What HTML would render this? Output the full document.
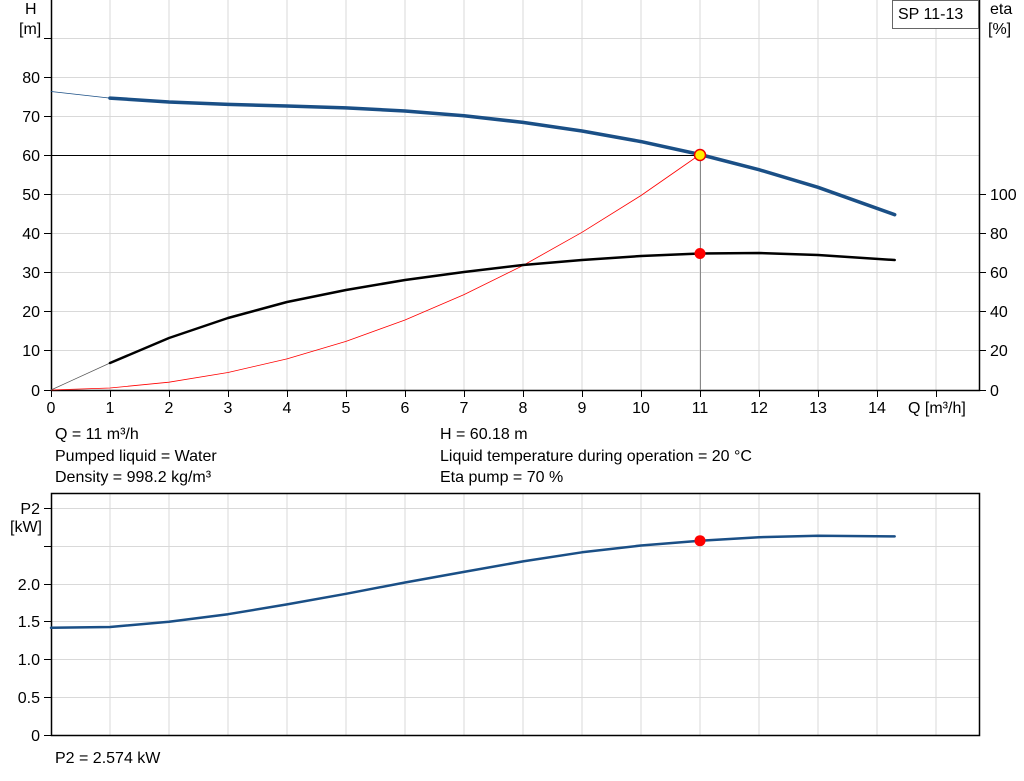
<!DOCTYPE html>
<html><head><meta charset="utf-8"><style>body{margin:0;background:#fff}svg{display:block}text{font-family:"Liberation Sans",sans-serif;font-size:16px;fill:#000}</style></head>
<body>
<svg width="1024" height="781" viewBox="0 0 1024 781">
<g stroke="#d9d9d9" stroke-width="1">
<path d="M110 0V390M169 0V390M228 0V390M287 0V390M346 0V390M405 0V390M464 0V390M523 0V390M582 0V390M641 0V390M700 0V390M759 0V390M818 0V390M877 0V390M936 0V390"/>
<path d="M51 38.5H979M51 77.5H979M51 116.5H979M51 155.5H979M51 194.5H979M51 233.5H979M51 272.5H979M51 311.5H979M51 350.5H979"/>
<path d="M110 493V735M169 493V735M228 493V735M287 493V735M346 493V735M405 493V735M464 493V735M523 493V735M582 493V735M641 493V735M700 493V735M759 493V735M818 493V735M877 493V735M936 493V735"/>
<path d="M51 508.5H979M51 546.5H979M51 584.5H979M51 621.5H979M51 659.5H979M51 697.5H979"/>
</g>
<g stroke="#000" stroke-width="1.5" fill="none">
<path d="M51.5 0V390.5H979.5V0"/>
<path d="M51.5 493.5H979.5V735.5H51.5Z"/>
</g>
<g stroke="#000" stroke-width="1">
<path d="M44 38.5H51M44 77.5H51M44 116.5H51M44 155.5H51M44 194.5H51M44 233.5H51M44 272.5H51M44 311.5H51M44 350.5H51M44 390.5H51"/>
<path d="M51.5 390V397M110.5 390V397M169.5 390V397M228.5 390V397M287.5 390V397M346.5 390V397M405.5 390V397M464.5 390V397M523.5 390V397M582.5 390V397M641.5 390V397M700.5 390V397M759.5 390V397M818.5 390V397M877.5 390V397M936.5 390V397"/>
<path d="M979 194.5H986M979 233.5H986M979 272.5H986M979 311.5H986M979 350.5H986M979 390.5H986"/>
<path d="M44 508.5H51M44 546.5H51M44 584.5H51M44 621.5H51M44 659.5H51M44 697.5H51M44 735.5H51"/>
</g>
<rect x="892.5" y="0.5" width="86" height="28" fill="#fff" stroke="#666"/>
<text x="898" y="19">SP 11-13</text>
<text x="25" y="14">H</text><text x="19" y="34">[m]</text>
<text x="990" y="14">eta</text><text x="988" y="34">[%]</text>
<g text-anchor="end">
<text x="40" y="83">80</text><text x="40" y="122">70</text><text x="40" y="161">60</text><text x="40" y="200">50</text><text x="40" y="239">40</text><text x="40" y="278">30</text><text x="40" y="317">20</text><text x="40" y="356">10</text><text x="40" y="396">0</text>
<text x="40" y="514">P2</text><text x="42" y="532">[kW]</text>
<text x="40" y="590">2.0</text><text x="40" y="627">1.5</text><text x="40" y="665">1.0</text><text x="40" y="703">0.5</text><text x="40" y="741">0</text>
</g>
<g text-anchor="start">
<text x="990" y="200">100</text><text x="990" y="239">80</text><text x="990" y="278">60</text><text x="990" y="317">40</text><text x="990" y="356">20</text><text x="990" y="396">0</text>
</g>
<g text-anchor="middle">
<text x="51" y="413">0</text><text x="110" y="413">1</text><text x="169" y="413">2</text><text x="228" y="413">3</text><text x="287" y="413">4</text><text x="346" y="413">5</text><text x="405" y="413">6</text><text x="464" y="413">7</text><text x="523" y="413">8</text><text x="582" y="413">9</text><text x="641" y="413">10</text><text x="700" y="413">11</text><text x="759" y="413">12</text><text x="818" y="413">13</text><text x="877" y="413">14</text>
</g>
<text x="908" y="413">Q [m³/h]</text>
<text x="55" y="439">Q = 11 m³/h</text>
<text x="55" y="461">Pumped liquid = Water</text>
<text x="55" y="482">Density = 998.2 kg/m³</text>
<text x="440" y="439">H = 60.18 m</text>
<text x="440" y="461">Liquid temperature during operation = 20 °C</text>
<text x="440" y="482">Eta pump = 70 %</text>
<text x="55" y="763">P2 = 2.574 kW</text>
<path d="M51 155.5H700" stroke="#000" stroke-width="1"/>
<path d="M700.5 155V390" stroke="#888" stroke-width="1"/>
<g fill="none" stroke-linejoin="round" stroke-linecap="round">
<polyline stroke="#f00" stroke-width="0.8" points="51,390 110,388 169,382.2 228,372.5 287,358.9 346,341.4 405,320 464,294.6 523,265.5 582,232.3 641,195.5 700,154.5"/>
<path d="M51 390L110 363" stroke="#555" stroke-width="0.7"/>
<polyline stroke="#000" stroke-width="2.5" points="110,363 169,338 228,318 287,302 346,290 405,280 464,272 523,265 582,260 641,256 700,253.5 759,253 818,255 894.7,260"/>
<path d="M51 91.5L110 98.1" stroke="#1a4f86" stroke-width="0.8"/>
<polyline stroke="#1a4f86" stroke-width="3.5" points="110,98.1 169,102 228,104.4 287,106 346,107.9 405,111 464,115.7 523,122.4 582,131 641,141.6 700,154.5 759,169.7 818,187.3 894.7,214.7"/>
<polyline stroke="#1a4f86" stroke-width="2.5" points="51,627.8 110,627 169,621.8 228,614.2 287,604.4 346,593.8 405,582.5 464,571.9 523,561.4 582,552.3 641,545.5 700,540.7 759,537.2 818,535.7 894.7,536.4"/>
</g>
<circle cx="700" cy="155" r="5.5" fill="#ffee00" stroke="#e00" stroke-width="1.5"/>
<circle cx="700" cy="253.5" r="5.5" fill="#f00"/>
<circle cx="700" cy="540.7" r="5.5" fill="#f00"/>
</svg>
</body></html>
